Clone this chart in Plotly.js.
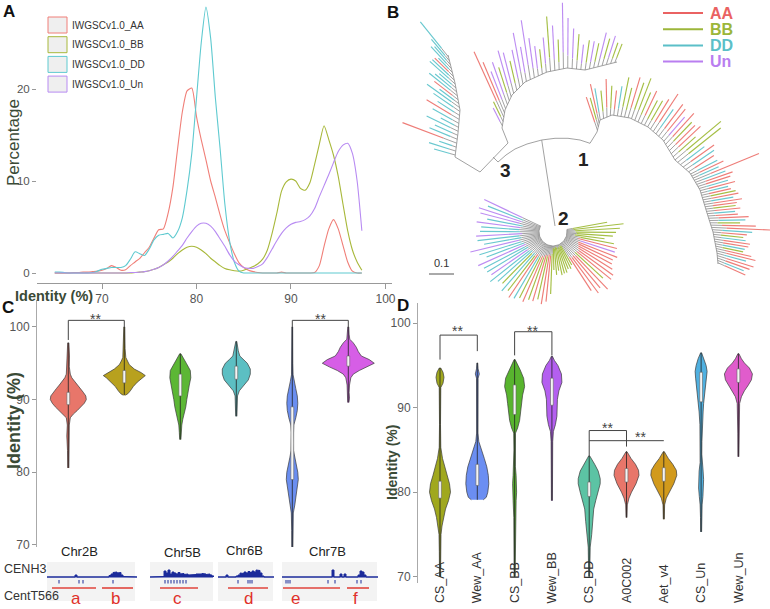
<!DOCTYPE html>
<html><head><meta charset="utf-8">
<script src="https://cdn.plot.ly/plotly-3.0.1.min.js"></script>
<style>html,body{margin:0;padding:0;background:#fff;}#plot{width:770px;height:609px;}</style>
</head><body><div id="plot"></div>
<script>
// ================= DATA =================
// Panel A: identity (%) grid and percentage densities
const identityGrid = [65,65.5,66,66.5,67,67.5,68,68.5,69,69.5,70,70.5,71,71.5,72,72.5,73,73.5,74,74.5,75,75.5,76,76.5,77,77.5,78,78.5,79,79.5,80,80.5,81,81.5,82,82.5,83,83.5,84,84.5,85,85.5,86,86.5,87,87.5,88,88.5,89,89.5,90,90.5,91,91.5,92,92.5,93,93.5,94,94.5,95,95.5,96,96.5,97,97.5];
const pctAA = [0,0,0,0,0.05,0.05,0.1,0.1,0.15,0.2, 0.3,0.5,0.8,0.6,0.3,0.35,0.8,1.2,1.6,2.2, 2.8,3.8,4.7,4.8,6.5,9.3,13.5,17.5,19.8,20.1, 17,14.5,12.3,10,8.2,6.3,4.6,3.3,2.1,1.1, 0.6,0.3,0.15,0.05,0,0,0,0,0.1,0, 0,0,0,0,0,0.05,0.8,2.9,4.8,5.8, 4.8,3,1.2,0.2,0,0];
const pctBB = [0,0,0,0,0,0,0,0,0,0, 0,0,0,0,0,0,0,0.05,0.1,0.15, 0.25,0.4,0.6,0.9,1.2,1.6,2.1,2.5,2.8,2.9, 2.8,2.5,2.1,1.6,1.2,0.8,0.5,0.35,0.25,0.2, 0.3,0.5,0.7,1,1.5,2.5,4.3,6.5,8.9,9.9, 10.2,10,9.2,9,9.8,11.8,14,16,14.5,12.8, 10.5,7.5,4.6,2.5,1.2,0.3];
const pctDD = [0.1,0.1,0.05,0,0,0,0,0,0.05,0.2, 0.4,0.5,0.6,0.6,0.6,0.8,1.5,2.3,2.1,1.9, 2.6,3.6,4.1,4.2,4.3,3.8,4.5,6,9,13, 19,25,28.9,25.5,19,13.5,7.5,3.5,1.2,0.2, 0,0,0,0,0,0,0,0,0,0, 0,0,0,0,0,0,0,0,0,0, 0,0,0,0,0,0];
const pctUn = [0,0,0,0,0,0,0,0,0,0, 0,0,0,0,0,0,0.05,0.05,0.1,0.15, 0.25,0.4,0.6,0.9,1.3,1.8,2.4,3,3.8,4.5, 5.1,5.4,5.4,5.1,4.5,3.7,2.9,2,1.3,0.9, 0.6,0.5,0.5,0.7,1,1.7,2.6,3.5,4.3,4.9, 5.3,5.5,5.6,5.8,6.2,7,8.3,9.5,10.7,12, 13.2,13.9,14.1,13,10,4.6];
const seriesA = ['IWGSCv1.0_AA','IWGSCv1.0_BB','IWGSCv1.0_DD','IWGSCv1.0_Un'];

// Panel B: tree clades (leaf branch lengths and subgenome codes)
const cladeDLen = [22,28,18,58,30,25,35,20,30,38,26,32,40,24,30,36,28,22,34,30,26,20,30,24,28,45];
const cladeDCol = "DDDADDDDDADDDDADDDDDADDDDD";
const cladeULen = [20,22,72,55,40,45,35,48,42,30,38,52,35,60,40,30,25,35,55,45,30,66,50,40,35,25,30,28,25,35,28,30,22,20];
const cladeUCol = "UBAAUUBUUBUUUUUUBUBUBUUUBUBUBUBUBB";
const clade1aLen = [35,30,40,32,28,38,30,25, 30,40,30,42,38,45,32,36,28,30, 35,45,30,40,38,32,42,35,36,40,30,60,55,30,38,34,30];
const clade1aCol = "ABADBABADBBABBBABBAADAAUABAABBBDADA";
const clade1bLen = [30,35,28,70,32,38,34,30,36,28, 30,34,36,30,38,32,30,34,28,30, 40,36,30,45,60,40,34,30,32,36, 34,30,28,36,40,30,38,34,28,30];
const clade1bCol = "DADADAADADABADAABADAADBAADABDAADBAADAADA";
const clade2Col = "UDUUDUD"+"DUDDUDD"+"UDDUDDB"+"DBADBAB"+"ABAAB"+"BBBBBBBBB"+"AAAABAAAA"+"AAUAB"+"BBBBBB";
const clade2RIn = [34,32,33,35,31,33,34, 33,31,34,32,35,33,31, 30,32,29,31,30,28,30, 28,30,27,29,28,26,27, 24,25,23,24,22, 16,17,15,16,18,16,17,15,16, 30,32,31,33,30,31,32,30,29, 28,27,29,26,28, 22,24,23,22,21,20];
const clade2Len = [42,38,45,40,36,44,38, 40,46,42,38,50,44,40, 52,46,48,44,50,46,42, 50,44,52,48,46,50,45, 48,44,50,46,40, 22,26,24,28,25,27,23,26,22, 40,44,42,46,38,44,42,40,38, 38,42,36,40,34, 30,36,40,45,50,35];
const subgenomes = ['AA','BB','DD','Un'];

// Panel C: violins (identity, half-width) per CENH3 region
const regionsC = ['a','b','c','d','e','f'];
const cY = [
 [80.6,83,85,86.5,87.5,88,88.5,89,89.5,90,90.5,91,91.5,92,92.5,93,93.5,94.5,96,97.8],
 [90.6,90.8,91.2,91.8,92.4,93,93.3,93.7,94.2,94.8,95.3,95.8,97,98.5,100],
 [84.5,85.5,86.5,87.3,88,89,90,91,92,93,94,95,95.7,96.3],
 [87.7,89,90.5,91.2,92,92.7,93.5,94.2,95,95.5,96,96.7,97.5,98],
 [68.3,72,74.4,75.5,77,78,79,80,81,82,83,84,85.5,86.5,87.5,88.5,89.5,90.5,91.5,92.5,93.4,95,100],
 [89.6,90.2,91,92,93,93.5,94,94.5,95,95.5,96,96.6,97.2,97.8,98.3,99,100]];
const cW = [
 [0.6,0.8,1.5,1,2,5,9,13,16,18,17.5,15,12,9,6,3.5,2,1,1.2,0.6],
 [1,3.5,6,9,13,18,21,17,10,5,3,1.5,0.8,0.6,0.5],
 [0.6,1,1.5,2.5,4,5.5,6.5,7.5,9,10.5,10,6,3,0.6],
 [0.6,0.8,1.2,3,8,12,14,14,11,7,3.5,2,1.2,0.5],
 [0.5,0.6,1,2.5,4,5,6,5.5,4,2.5,1.2,0.8,0.8,1.5,3.5,5,5.5,5,3.5,2,0.8,0.5,0.4],
 [0.6,1.2,0.8,1.2,2.5,5,11,19,26,21,13,10,8,5,1.5,0.8,0.5]];
const cQ1 = [89.3,92.3,90.5,92.8,79.0,94.6];
const cQ3 = [91.0,94.0,93.5,94.6,89.0,96.0];
const colC = ['#e8766a','#b8a11e','#5cb735','#5cbfc3','#6a8ef0','#d65ee6'];
const chrNames = ['Chr2B','Chr5B','Chr6B','Chr7B'];

// Panel D: violins
const catD = ['CS_AA','Wew_AA','CS_BB','Wew_BB','CS_DD','A0C002','Aet_v4','CS_Un','Wew_Un'];
const dY = [
 [70,73,75,76,77,78,79,80,81,82,83,84,85.3,88,92.4,92.9,93.6,94.2,94.7],
 [79.1,79.4,80,81,82,83,84,85,86,87,89,93.5,94,94.6,95.3],
 [70,75,77,79,80,81,82,83,85,87,87.6,88.5,89.5,90.5,91.5,92.5,93.5,94.5,95.2,95.7],
 [79,83,86,87.2,88,89,90,91,92,93,94,95,95.6,96.1],
 [70,73.5,75,76.5,78,79,80,81,81.6,82.5,83.3,84,84.3],
 [77,78.5,79.3,80,81,82,82.6,83.3,84,84.8],
 [76.8,78.5,79.3,80,81,82,82.6,83.3,84,84.8],
 [75.3,77,78.5,79.5,80.5,81.5,82.5,83.5,84.5,86,88,89.5,90.5,91.5,92.5,93.5,94.3,95,95.8,96.5],
 [84.2,87,89,90.5,91.3,92,92.7,93.3,94,94.7,95.3,95.8,96.4]];
const dW = [
 [0.5,0.7,1,2,3.5,5.5,8.5,10.5,9.5,7,4.5,2.5,0.8,0.5,0.8,3,4,3,0.8],
 [6,9,10.5,11.5,11,9.5,7,4,1.5,0.7,0.5,0.8,2,0.8,0.4],
 [0.5,0.7,0.8,1.5,2,2,1.5,0.8,0.7,0.9,3,5,6,7,8,10,9,5.5,2.5,0.5],
 [0.5,0.6,0.8,1.5,3.5,5,5.5,5.5,7,10,9.5,6,2.5,0.5],
 [0.5,1,2.5,3.5,4.5,6.5,9,11,11,9,5.5,2,0.5],
 [0.5,0.8,2.5,5,9.5,12.5,12,9,4.5,0.5],
 [0.5,0.8,2.5,5.5,10,13,12.5,9,4.5,0.5],
 [0.5,0.6,1,1.8,2.5,2.5,2,1,0.7,0.8,1.2,2,2.5,3.5,4.5,5.5,6,5,3,0.5],
 [0.5,0.6,0.8,1.2,3,6,10,13,14,11,6,3,0.5]];
const dQ1 = [79.3,80.8,89.2,90.3,79.5,81.2,81.3,90.7,93.0];
const dQ3 = [81.3,83.3,92.7,93.5,81.2,82.8,82.9,94.2,94.6];
const colD = ['#a0a81e','#6b8ef2','#58b42e','#b45ff0','#5cc3a4','#e8766a','#d29a1c','#4fb0e0','#e05ccc'];

// CENH3 ChIP signal (binned) per chromosome window
const sig2B = [0,0,0,0,0,0,0,0,0,0, 0,0,0,0,2,0,0,0,0,0, 0,0,0,0,0,0,0,0,0,0, 0,1.5,3,4.5,5,4,4.5,2,0.5,0, 0,0,0,0,0];
const sig5B = [0,0,0,0,0,0,0.5,6,4,7,3,5,4,3,4.5,3,3.5,2.5,3,2,2.5,2,2.5,3,2.5,3,3.5,3,2.5,3,2,1];
const sig6B = [0,0,0,0,2,0,0,0,0,1,2,4,3.5,5,4,5.5,4.5,6,5,7,6.5,4,1,0,0,0,0,0];
const sig7B = [0,0,0,0,0,0,0,0,0,0, 0,0,0,0,0,0,0,0,0,0, 0,0,0,0,0,7,0,0,0,3,0,3,0,0,0,0,0,0,2,6,5,2,0,0,0,0,0,0];

// ================= DRAWING =================
const FONT = 'Arial, "Liberation Sans", sans-serif';
const W = 770, H = 609;
const TITLE = '#3a4a36';
const traces = [];
const annotations = [];
const shapes = [];
const PX = {xaxis:'x4', yaxis:'y4'};

// ---- Panel A
const colA = ['#f07f78','#a8b83a','#5fcad0','#b88bf2'];
[pctAA,pctBB,pctDD,pctUn].forEach((v,i)=>{
  traces.push({type:'scatter',mode:'lines',x:identityGrid,y:v,name:seriesA[i],
    line:{color:colA[i],width:1.1,shape:'spline',smoothing:0.6},xaxis:'x',yaxis:'y',hoverinfo:'skip'});
});
seriesA.forEach((s,i)=>{
  const y0 = 17 + 19.7*i;
  shapes.push({type:'rect',xref:'x4',yref:'y4',x0:48,x1:67,y0:y0,y1:y0+16,fillcolor:'#efefef',line:{color:colA[i],width:1}});
  annotations.push({xref:'x4',yref:'y4',x:70,y:y0+8,text:s,showarrow:false,xanchor:'left',yanchor:'middle',font:{size:10,color:'#333',family:FONT}});
});

// ---- Panel B tree
const TC = {A:'#ee7d78',B:'#a5bf45',D:'#69c8cf',U:'#bd8df2',G:'#8a8a8a'};
const seg = {G:{x:[],y:[]},A:{x:[],y:[]},B:{x:[],y:[]},D:{x:[],y:[]},U:{x:[],y:[]}};
function addLine(k,pts){pts.forEach(p=>{seg[k].x.push(p[0]);seg[k].y.push(p[1]);});seg[k].x.push(null);seg[k].y.push(null);}
function leaf(p,ang,len,col){
  const r=ang*Math.PI/180, ux=Math.cos(r), uy=-Math.sin(r);
  const m=[p[0]+ux*len*0.25,p[1]+uy*len*0.25];
  addLine('G',[p,m]); addLine(col,[m,[p[0]+ux*len,p[1]+uy*len]]);
}
function along(pts,dirs,t){
  const L=[0]; for(let i=1;i<pts.length;i++){L.push(L[i-1]+Math.hypot(pts[i][0]-pts[i-1][0],pts[i][1]-pts[i-1][1]));}
  const s=t*L[L.length-1];
  for(let i=1;i<pts.length;i++){ if(s<=L[i]||i===pts.length-1){const f=(s-L[i-1])/(L[i]-L[i-1]);
    return {p:[pts[i-1][0]+f*(pts[i][0]-pts[i-1][0]),pts[i-1][1]+f*(pts[i][1]-pts[i-1][1])],a:dirs[i-1]+f*(dirs[i]-dirs[i-1])};}}
}
function comb(pts,dirs,lens,cols){
  addLine('G',pts);
  lens.forEach((L,i)=>{const q=along(pts,dirs,(i+0.5)/lens.length); leaf(q.p,q.a,L,cols[i]);});
}
function fan(c,r0,a0,a1,rin,lens,cols){
  const arc=[]; for(let a=a0;a<=a1;a+=4){const r=a*Math.PI/180; arc.push([c[0]+r0*Math.cos(r),c[1]-r0*Math.sin(r)]);}
  addLine('G',arc);
  lens.forEach((L,i)=>{const a=a0+(a1-a0)*(i+0.5)/lens.length, r=a*Math.PI/180, ux=Math.cos(r), uy=-Math.sin(r);
    const p0=[c[0]+r0*ux,c[1]+r0*uy], p1=[c[0]+rin[i]*ux,c[1]+rin[i]*uy];
    addLine('G',[p0,p1]); addLine(cols[i],[p1,[c[0]+(rin[i]+L)*ux,c[1]+(rin[i]+L)*uy]]);});
}
// tree skeleton (node positions of the layout)
const rootArc = [[498,162],[506,155],[515,149],[527,144],[541.7,140],[555,138.3],[568,138.3],[580,140],[590,143.3]];
addLine('G',rootArc);
[[[498,162],[493,157]],[[480,172],[508,143]],[[508,143],[502,128]],[[480,172],[455,157]],[[590,143.3],[597,132]],[[541.7,140],[555,226]]].forEach(e=>addLine('G',e));
comb([[455,157],[458,133],[460,110],[455,83],[448,55]],[165,155,145,138,128],cladeDLen,cladeDCol);
comb([[502,128],[505,110],[512,95],[525,82],[547,72],[567,68],[585,70],[600,66],[617,62]],[118,112,105,100,95,90,82,75,68],cladeULen,cladeUCol);
comb([[597,132],[600,120],[612,115],[630,118],[648,127],[663,140],[675,160],[690,173]],[110,100,85,72,60,50,40,32],clade1aLen,clade1aCol);
comb([[690,173],[700,190],[707,213],[713,232],[717,253],[718,264]],[28,15,5,-5,-15,-25],clade1bLen,clade1bCol);
fan([553,232],14,153,372,clade2RIn,clade2Len,clade2Col);
['G','A','B','D','U'].forEach(k=>{
  traces.push({type:'scatter',mode:'lines',x:seg[k].x,y:seg[k].y,line:{color:TC[k],width:k==='G'?0.8:1.15},hoverinfo:'skip',...PX});
});
const legBCol = ['#ea6262','#9cb63a','#5bbfc8','#b97ef0'];
subgenomes.forEach((s,i)=>{
  const y = 13 + 16.2*i;
  traces.push({type:'scatter',mode:'lines',x:[663,703],y:[y,y],line:{color:legBCol[i],width:2},hoverinfo:'skip',...PX});
  annotations.push({xref:'x4',yref:'y4',x:708,y:y,text:'<b>'+s+'</b>',showarrow:false,xanchor:'left',yanchor:'middle',font:{size:16,color:legBCol[i],family:FONT}});
});
traces.push({type:'scatter',mode:'lines',x:[429,454],y:[274,274],line:{color:'#555',width:1},hoverinfo:'skip',...PX});
annotations.push({xref:'x4',yref:'y4',x:441,y:263,text:'0.1',showarrow:false,font:{size:11,color:'#333',family:FONT}});
[['1',583,159],['2',563,218],['3',505,170]].forEach(t=>annotations.push({xref:'x4',yref:'y4',x:t[1],y:t[2],text:'<b>'+t[0]+'</b>',showarrow:false,font:{size:19,color:'#222',family:FONT}}));

// ---- violin helper
function violin(xc,ys,ws,spacing,color,q1,q3,xa,ya){
  const k=1/spacing;
  const xs=[], yy=[];
  ys.forEach((y,i)=>{xs.push(xc+ws[i]*k);yy.push(y);});
  for(let i=ys.length-1;i>=0;i--){xs.push(xc-ws[i]*k);yy.push(ys[i]);}
  traces.push({type:'scatter',mode:'lines',x:xs,y:yy,fill:'toself',fillcolor:color,line:{color:'#3a3a3a',width:0.7},xaxis:xa,yaxis:ya,hoverinfo:'skip'});
  traces.push({type:'scatter',mode:'lines',x:[xc,xc],y:[ys[0],ys[ys.length-1]],line:{color:'#222',width:0.8},xaxis:xa,yaxis:ya,hoverinfo:'skip'});
  const b=1.4*k;
  traces.push({type:'scatter',mode:'lines',x:[xc-b,xc+b,xc+b,xc-b,xc-b],y:[q1,q1,q3,q3,q1],fill:'toself',fillcolor:'#f4f4f4',line:{color:'#666',width:0.6},xaxis:xa,yaxis:ya,hoverinfo:'skip'});
}
cY.forEach((ys,i)=>violin(i,ys,cW[i],56,colC[i],cQ1[i],cQ3[i],'x2','y2'));
dY.forEach((ys,i)=>violin(i,ys,dW[i],37.3,colD[i],dQ1[i],dQ3[i],'x3','y3'));

// significance brackets
function bracket(xs,ys,xa,ya){traces.push({type:'scatter',mode:'lines',x:xs,y:ys,line:{color:'#444',width:1},xaxis:xa,yaxis:ya,hoverinfo:'skip'});}
bracket([0,0,1,1],[98.2,100.9,100.9,100.0],'x2','y2');
bracket([4,4,5,5],[100,100.9,100.9,100.0],'x2','y2');
bracket([0,0,1,1],[95.7,98.6,98.6,96.7],'x3','y3');
bracket([2,2,3,3],[96.2,99.0,99.0,96.2],'x3','y3');
bracket([4,4,5,5],[84.2,87.3,87.3,85.4],'x3','y3');
bracket([4,6],[86.1,86.1],'x3','y3');
[[95,319],[320,319],[457,331],[532,331],[607,428],[640,437]].forEach(p=>annotations.push({xref:'x4',yref:'y4',x:p[0],y:p[1],text:'**',showarrow:false,font:{size:14,color:'#444',family:FONT}}));

// D category labels
catD.forEach((c,i)=>annotations.push({xref:'x3',yref:'paper',x:i,y:1-605/H,text:c,showarrow:false,textangle:-90,xanchor:'center',yanchor:'bottom',font:{size:12.5,color:'#333',family:FONT}}));

// ---- CENH3 tracks
const windows = [[47,135],[150,213],[218,273],[282,377]];
const sigs = [sig2B,sig5B,sig6B,sig7B];
const ticksB = [[59,79,83,113],[165,168,171,174,177,180,183,186],[238,248,250,252],[286,288,290,328,335,357,361]];
const BLUE = '#1b2a9a';
windows.forEach((w,i)=>{
  shapes.push({type:'rect',xref:'x4',yref:'y4',x0:w[0],x1:w[1],y0:562,y1:601,fillcolor:'#f3f3f3',line:{width:0},layer:'below'});
  const xs=[w[0]], ys=[577];
  sigs[i].forEach((h,j)=>{const x=w[0]+2*j; xs.push(x,x+2); ys.push(577-h,577-h);});
  xs.push(w[1],w[0]); ys.push(577,577);
  traces.push({type:'scatter',mode:'lines',x:xs,y:ys,fill:'toself',fillcolor:BLUE,line:{color:BLUE,width:1},hoverinfo:'skip',...PX});
  const tx=[],ty=[]; ticksB[i].forEach(t=>{tx.push(t,t,null);ty.push(580,583.5,null);});
  traces.push({type:'scatter',mode:'lines',x:tx,y:ty,line:{color:BLUE,width:1},hoverinfo:'skip',...PX});
});
const redBars = [[52,96],[102,133],[160,198],[228,268],[283,340],[347,369]];
const rx=[],ry=[]; redBars.forEach(b=>{rx.push(b[0],b[1],null);ry.push(588,588,null);});
traces.push({type:'scatter',mode:'lines',x:rx,y:ry,line:{color:'#e0443c',width:1.6},hoverinfo:'skip',...PX});
[76,115,177,248,295,355].forEach((x,i)=>annotations.push({xref:'x4',yref:'y4',x:x,y:598,text:regionsC[i],showarrow:false,font:{size:17,color:'#e0302a',family:FONT}}));
[[79,551],[182,552],[244,550],[327,551]].forEach((p,i)=>annotations.push({xref:'x4',yref:'y4',x:p[0],y:p[1],text:chrNames[i],showarrow:false,font:{size:13,color:'#222',family:FONT}}));
annotations.push({xref:'x4',yref:'y4',x:2,y:569,text:'CENH3',showarrow:false,xanchor:'left',font:{size:12.5,color:'#333',family:FONT}});
annotations.push({xref:'x4',yref:'y4',x:2,y:596,text:'CentT566',showarrow:false,xanchor:'left',font:{size:12.5,color:'#333',family:FONT}});

// ---- titles & panel letters
annotations.push({xref:'x4',yref:'y4',x:13,y:143,text:'Percentage',textangle:-90,showarrow:false,font:{size:17,color:TITLE,family:FONT}});
annotations.push({xref:'x4',yref:'y4',x:54,y:296,text:'<b>Identity (%)</b>',showarrow:false,font:{size:14.5,color:TITLE,family:FONT}});
annotations.push({xref:'x4',yref:'y4',x:14,y:421,text:'<b>Identity (%)</b>',textangle:-90,showarrow:false,font:{size:18,color:TITLE,family:FONT}});
annotations.push({xref:'x4',yref:'y4',x:392,y:463,text:'<b>Identity (%)</b>',textangle:-90,showarrow:false,font:{size:14,color:TITLE,family:FONT}});
[['A',9,11],['B',393,12],['C',8,307],['D',403,305]].forEach(t=>annotations.push({xref:'x4',yref:'y4',x:t[1],y:t[2],text:'<b>'+t[0]+'</b>',showarrow:false,font:{size:17,color:'#111',family:FONT}}));

const axCommon = {showgrid:false,zeroline:false,fixedrange:true};
const layout = {
  width:W,height:H,margin:{l:0,r:0,t:0,b:0},paper_bgcolor:'#ffffff',plot_bgcolor:'rgba(0,0,0,0)',showlegend:false,
  font:{family:FONT,color:'#444'},
  xaxis:{...axCommon,domain:[37/W,392/W],range:[63.12,100.69],anchor:'y',showline:true,linecolor:'#999',linewidth:1,ticks:'outside',ticklen:5,tickcolor:'#999',tickvals:[70,80,90,100],tickfont:{size:12,color:'#555'}},
  yaxis:{...axCommon,domain:[1-283/H,1-5/H],range:[-1.087,29.13],anchor:'x',showline:false,ticks:'outside',ticklen:4,tickcolor:'#999',tickvals:[0,10,20],tickfont:{size:11.5,color:'#555'}},
  xaxis2:{...axCommon,domain:[37/W,380/W],range:[-0.559,5.566],anchor:'y2',visible:false},
  yaxis2:{...axCommon,domain:[1-547/H,1-300/H],range:[69.72,103.7],anchor:'x2',showline:true,linecolor:'#aaa',ticks:'outside',ticklen:4,tickcolor:'#999',tickvals:[70,80,90,100],tickfont:{size:12,color:'#555'}},
  xaxis3:{...axCommon,domain:[418/W,1],range:[-0.59,8.847],anchor:'y3',visible:false},
  yaxis3:{...axCommon,domain:[1-583/H,1-303/H],range:[69.25,102.4],anchor:'x3',showline:true,linecolor:'#aaa',ticks:'outside',ticklen:4,tickcolor:'#999',tickvals:[70,80,90,100],tickfont:{size:12,color:'#555'}},
  xaxis4:{...axCommon,domain:[0,1],range:[0,W],anchor:'y4',visible:false},
  yaxis4:{...axCommon,domain:[0,1],range:[H,0],anchor:'x4',visible:false},
  annotations:annotations,shapes:shapes
};
Plotly.newPlot('plot',traces,layout,{staticPlot:true,displayModeBar:false});
</script></body></html>
